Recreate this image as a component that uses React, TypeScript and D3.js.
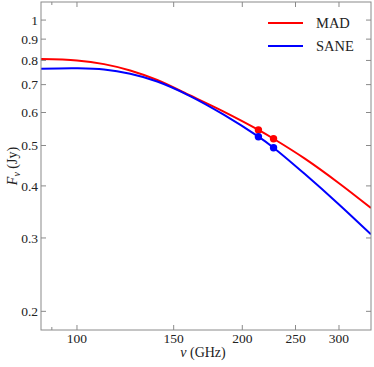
import React from "react";
import * as d3 from "d3";

// frequencies (GHz) sampled along the model curves
const freqs = [86, 100, 112, 125, 140, 160, 185, 214, 228, 260, 300, 343];
const madFlux = [0.806, 0.8, 0.784, 0.757, 0.718, 0.661, 0.603, 0.545, 0.519, 0.465, 0.406, 0.354];
const saneFlux = [0.764, 0.766, 0.761, 0.743, 0.712, 0.659, 0.593, 0.525, 0.494, 0.427, 0.361, 0.306];

// measured points
const obsFreqs = [214, 228];
const madObs = [0.545, 0.519];
const saneObs = [0.525, 0.494];

const xTicks = [100, 150, 200, 250, 300];
const xMinorTicks = [90];
const yTicks = [0.2, 0.3, 0.4, 0.5, 0.6, 0.7, 0.8, 0.9, 1];

const series = [
  { name: "MAD", color: "#ff0000", flux: madFlux, obs: madObs },
  { name: "SANE", color: "#0000ff", flux: saneFlux, obs: saneObs }
];

const W = 374;
const H = 367;
const left = 41, right = 371, top = 2, bottom = 330;
const font = "'Liberation Serif', 'DejaVu Serif', serif";
const axisColor = "#8a8a8a";
const textColor = "#222";

export default function App() {
  const x = d3.scaleLog().domain([86, 343.1]).range([left, right]);
  const y = d3.scaleLog().domain([0.1804, 1.105]).range([bottom, top]);

  const line = d3
    .line<number>()
    .x((_, i) => x(freqs[i]))
    .y(d => y(d))
    .curve(d3.curveCatmullRom.alpha(0.5));

  const fmtY = (v: number) => (v === 1 ? "1" : d3.format(".1f")(v));

  return (
    <svg
      width={W}
      height={H}
      style={{ position: "absolute", left: 0, top: 0, background: "#fff" }}
      fontFamily={font}
    >
      <defs>
        <clipPath id="plot">
          <rect x={left} y={top} width={right - left} height={bottom - top} />
        </clipPath>
      </defs>

      {/* curves */}
      <g clipPath="url(#plot)">
        {series.map(s => (
          <path key={s.name} d={line(s.flux) || ""} fill="none" stroke={s.color} strokeWidth={2} />
        ))}
        {series.map(s =>
          s.obs.map((v, i) => (
            <circle key={s.name + i} cx={x(obsFreqs[i])} cy={y(v)} r={3.7} fill={s.color} />
          ))
        )}
      </g>

      {/* frame */}
      <rect x={left} y={top} width={right - left} height={bottom - top} fill="none" stroke={axisColor} strokeWidth={1} />

      {/* x ticks */}
      {xTicks.map(t => (
        <g key={t}>
          <line x1={x(t)} x2={x(t)} y1={bottom} y2={bottom - 5} stroke={axisColor} />
          <line x1={x(t)} x2={x(t)} y1={top} y2={top + 5} stroke={axisColor} />
          <text x={x(t)} y={343} textAnchor="middle" fontSize={13.5} fill={textColor}>{t}</text>
        </g>
      ))}
      {xMinorTicks.map(t => (
        <g key={t}>
          <line x1={x(t)} x2={x(t)} y1={bottom} y2={bottom - 3} stroke={axisColor} />
          <line x1={x(t)} x2={x(t)} y1={top} y2={top + 3} stroke={axisColor} />
        </g>
      ))}

      {/* y ticks */}
      {yTicks.map(t => (
        <g key={t}>
          <line x1={left} x2={left + 5} y1={y(t)} y2={y(t)} stroke={axisColor} />
          <line x1={right} x2={right - 5} y1={y(t)} y2={y(t)} stroke={axisColor} />
          <text x={38} y={y(t)} dy="0.35em" textAnchor="end" fontSize={13.5} fill={textColor}>{fmtY(t)}</text>
        </g>
      ))}

      {/* axis titles */}
      <text x={203} y={357} textAnchor="middle" fontSize={14} fill={textColor}>
        <tspan fontStyle="italic">ν</tspan> (GHz)
      </text>
      <text transform={`translate(17, ${(top + bottom) / 2}) rotate(-90)`} textAnchor="middle" fontSize={14} fill={textColor}>
        <tspan fontStyle="italic">F</tspan>
        <tspan fontStyle="italic" fontSize={10} dy={3}>ν</tspan>
        <tspan dy={-3}> (Jy)</tspan>
      </text>

      {/* legend */}
      {series.map((s, i) => (
        <g key={s.name} transform={`translate(0, ${23 + i * 23})`}>
          <line x1={268} x2={303} y1={0} y2={0} stroke={s.color} strokeWidth={2} />
          <text x={316} y={0} dy="0.35em" fontSize={14.5} fill={textColor}>{s.name}</text>
        </g>
      ))}
    </svg>
  );
}
